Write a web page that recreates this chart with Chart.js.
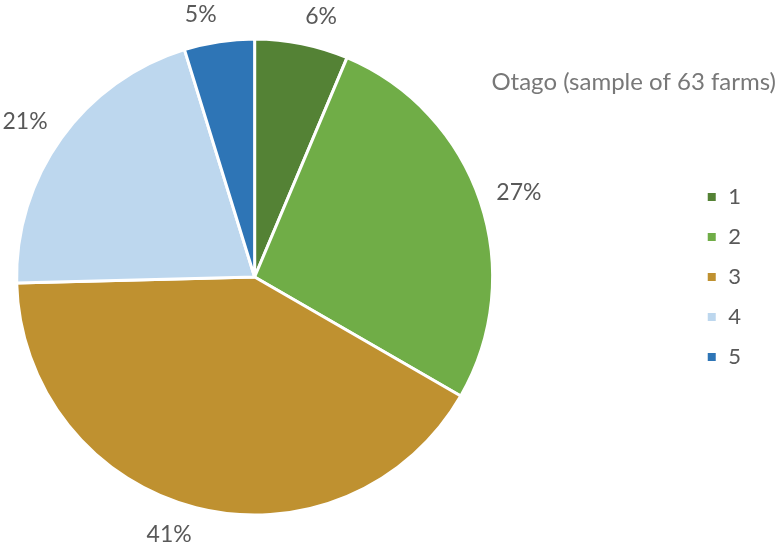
<!DOCTYPE html>
<html>
<head>
<meta charset="utf-8">
<script src="https://cdn.jsdelivr.net/npm/chart.js@4.4.1/dist/chart.umd.min.js"></script>
<style>
  html, body { margin: 0; padding: 0; background: #fff; }
  #wrap { width: 778px; height: 546px; }
</style>
</head>
<body>
<div id="wrap"><canvas id="pie"></canvas></div>
<script>
// farms per group, Otago
const categories = ['1', '2', '3', '4', '5'];
const farmCounts = [4, 17, 26, 13, 3];
const sliceColors = ['#548235', '#70AD47', '#BF9130', '#BDD7EE', '#2E75B6'];
const chartTitle = 'Otago (sample of 63 farms)';

const FONT = 'Lato, "Liberation Sans", sans-serif';
const TEXT_GREY = '#595959';

// empty boxes on the right so the legend sits away from the pie
// (each vertical box is capped, so the gap is split in two)
function makeSpacer(w) {
    return {
        position: 'right',
        weight: 0,
        fullSize: false,
        options: {},
        width: 0, height: 0, left: 0, top: 0, right: 0, bottom: 0,
        isHorizontal() { return false; },
        update(maxWidth, maxHeight) {
            this.width = Math.min(w, maxWidth);
            this.height = maxHeight;
        },
        draw() {}
    };
}

const legendGap = {
    id: 'legendGap',
    beforeInit(chart) {
        Chart.layouts.addBox(chart, makeSpacer(98));
        Chart.layouts.addBox(chart, makeSpacer(99));
    }
};

// percentage labels just outside each slice
const outsideLabels = {
    id: 'outsideLabels',
    afterDatasetsDraw(chart) {
        const ctx = chart.ctx;
        const meta = chart.getDatasetMeta(0);
        const data = chart.data.datasets[0].data;
        const total = data.reduce((a, b) => a + b, 0);
        ctx.save();
        ctx.font = '23px ' + FONT;
        ctx.fillStyle = TEXT_GREY;
        ctx.textAlign = 'center';
        ctx.textBaseline = 'middle';
        meta.data.forEach((arc, i) => {
            const p = arc.getProps(['x', 'y', 'startAngle', 'endAngle', 'outerRadius'], true);
            const mid = (p.startAngle + p.endAngle) / 2;
            const text = Math.round(data[i] * 100 / total) + '%';
            const w = ctx.measureText(text).width;
            const h = 21;
            const dx = Math.cos(mid), dy = Math.sin(mid);
            const r = p.outerRadius + 17;
            const x = p.x + dx * r + Math.sign(dx) * w / 2;
            const y = p.y + dy * r + dy * h / 2;
            ctx.fillText(text, x, y);
        });
        ctx.restore();
    }
};

const titleText = {
    id: 'titleText',
    afterDraw(chart) {
        const ctx = chart.ctx;
        ctx.save();
        ctx.font = '24px ' + FONT;
        ctx.fillStyle = '#787878';
        ctx.textAlign = 'right';
        ctx.textBaseline = 'middle';
        ctx.fillText(chartTitle, chart.width - 2, 82);
        ctx.restore();
    }
};

const pieCtx = document.getElementById('pie').getContext('2d');
const pieChart = new Chart(pieCtx, {
    type: 'pie',
    data: {
        labels: categories,
        datasets: [{
            data: farmCounts,
            backgroundColor: sliceColors,
            borderColor: '#ffffff',
            borderWidth: 3
        }]
    },
    options: {
        responsive: true,
        maintainAspectRatio: false,
        animation: false,
        radius: 238,
        layout: {
            padding: { left: 18, top: 39, bottom: 31, right: 27 }
        },
        plugins: {
            legend: {
                display: true,
                position: 'right',
                labels: {
                    boxWidth: 11,
                    boxHeight: 11,
                    padding: 18,
                    color: TEXT_GREY,
                    font: { family: FONT, size: 22 }
                }
            },
            tooltip: { enabled: false }
        }
    },
    plugins: [legendGap, outsideLabels, titleText]
});
</script>
</body>
</html>
